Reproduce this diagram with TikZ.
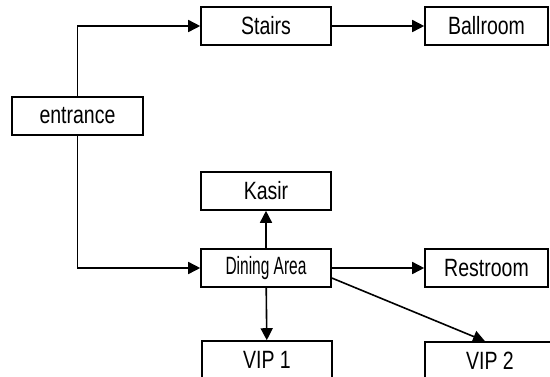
\documentclass[tikz,border=0pt]{standalone}
\usepackage{fontspec}
\setmainfont{Liberation Sans}[FakeStretch=0.78]
\newfontfamily\narrowfont{Liberation Sans}[FakeStretch=0.62]
\usetikzlibrary{arrows.meta}
\begin{document}
\begin{tikzpicture}[x=1pt,y=-1pt,
    room/.style={draw, line width=1.6pt, minimum width=130pt, minimum height=38pt,
      inner sep=0pt, font=\fontsize{25}{28}\selectfont},
    link/.style={line width=1.6pt, -{Triangle[length=12pt,width=12pt]}}]
      \clip (0,0) rectangle (550,376);
      \useasboundingbox (0,0) rectangle (550,376);
      \node[room, minimum width=131pt] (entrance) at (77.5,116){entrance};
      \node[room] (stairs) at (266,26){Stairs};
      \node[room, minimum width=123pt] (ballroom) at (486.5,26){Ballroom};
      \node[room] (kasir) at (266,191){Kasir};
      \node[room] (dining) at (266,268){\narrowfont Dining Area};
      \node[room, minimum width=123pt] (restroom) at (486.5,268){Restroom};
      \node[room] (vip1) at (267,360){VIP 1};
      \node[room] (vip2) at (490,361){VIP 2};
      \draw[link](entrance.north) |- (stairs.west);
      \draw[link](stairs) -- (ballroom);
      \draw[link](entrance.south) |- (dining.west);
      \draw[link](dining) -- (kasir);
      \draw[link](dining) -- (restroom);
      \draw[link](dining) -- (vip1);
      \draw[link]([yshift=-10pt]dining.east) -- ([xshift=-5pt]vip2.north);

    \end{tikzpicture}
\end{document}
